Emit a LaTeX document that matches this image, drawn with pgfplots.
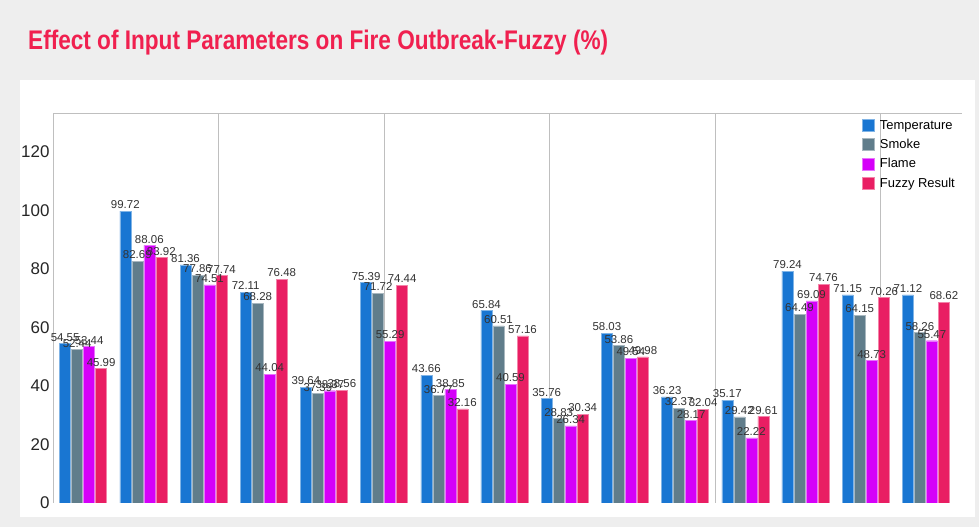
\documentclass[border=0pt]{standalone}
\usepackage{pgfplots}
\pgfplotsset{compat=1.18}
\usepackage{pgfplotstable}
\usepackage{fontspec}
\setmainfont{Liberation Sans}

\definecolor{cTemp}{HTML}{1976D2}
\definecolor{cSmoke}{HTML}{607D8B}
\definecolor{cFlame}{HTML}{D500F9}
\definecolor{cFuzzy}{HTML}{E91E63}
\definecolor{cTitle}{HTML}{F0204F}
\definecolor{cBg}{HTML}{EEEEEE}

% one row per group of bars
\pgfplotstableread{
x  temp  smoke flame fuzzy
1  54.55 52.44 53.44 45.99
2  99.72 82.69 88.06 83.92
3  81.36 77.86 74.51 77.74
4  72.11 68.28 44.04 76.48
5  39.64 37.39 38.37 38.56
6  75.39 71.72 55.29 74.44
7  43.66 36.77 38.85 32.16
8  65.84 60.51 40.59 57.16
9  35.76 28.83 26.34 30.34
10 58.03 53.86 49.54 49.98
11 36.23 32.37 28.17 32.04
12 35.17 29.42 22.22 29.61
13 79.24 64.49 69.09 74.76
14 71.15 64.15 48.73 70.26
15 71.12 58.26 55.47 68.62
}\datatable

\begin{document}
\begin{tikzpicture}[x=1bp,y=1bp]
\fill[cBg] (0,0) rectangle (979,527);
\fill[white] (20,10) rectangle (975,447);
\node[anchor=west, text=cTitle, inner sep=0,
      font=\fontsize{27}{30}\selectfont\bfseries] at (28,484)
      {\scalebox{0.84}[1]{Effect of Input Parameters on Fire Outbreak-Fuzzy (\%)}};
\begin{axis}[
    at={(53bp,24bp)}, anchor=south west,
    scale only axis, width=909bp, height=390bp,
    xmin=0.5, xmax=15.6, ymin=0, ymax=133.3,
    ybar=1bp, bar width=11bp,
    axis line style={draw=none},
    xtick={0.5,3.25,6,8.75,11.5,14.25}, xticklabels={},
    xmajorgrids, grid style={draw=black!25, line width=0.8bp},
    ytick={0,20,...,120}, major tick length=0pt,
    /pgf/number format/assume math mode=true,
    y tick label style={font=\fontsize{17}{17}\selectfont, text=black!85},
    nodes near coords,
    every node near coord/.append style={font=\fontsize{11.5}{12}\selectfont,
        text=black!80, inner sep=2bp,
        /pgf/number format/fixed, /pgf/number format/fixed zerofill,
        /pgf/number format/precision=2},
    legend style={at={(0.886,0.992)}, anchor=north west, draw=none, fill=none,
        font=\fontsize{13}{13}\selectfont, row sep=4.5bp,
        /tikz/every odd column/.append style={column sep=4bp}},
    legend cell align=left,
    legend image code/.code={\fill[#1] (0bp,-6bp) rectangle (12bp,6bp);},
]
\draw[black!25, line width=0.8bp] (rel axis cs:0,0) -- (rel axis cs:0,1) -- (rel axis cs:1,1);
\addplot[fill=cTemp, draw=cTemp!55!white, line width=0.4bp] table[x=x, y=temp] {\datatable};
\addplot[fill=cSmoke, draw=cSmoke!55!white, line width=0.4bp] table[x=x, y=smoke] {\datatable};
\addplot[fill=cFlame, draw=cFlame!55!white, line width=0.4bp] table[x=x, y=flame] {\datatable};
\addplot[fill=cFuzzy, draw=cFuzzy!55!white, line width=0.4bp] table[x=x, y=fuzzy] {\datatable};
\legend{Temperature, Smoke, Flame, Fuzzy Result}
\end{axis}
\end{tikzpicture}
\end{document}
